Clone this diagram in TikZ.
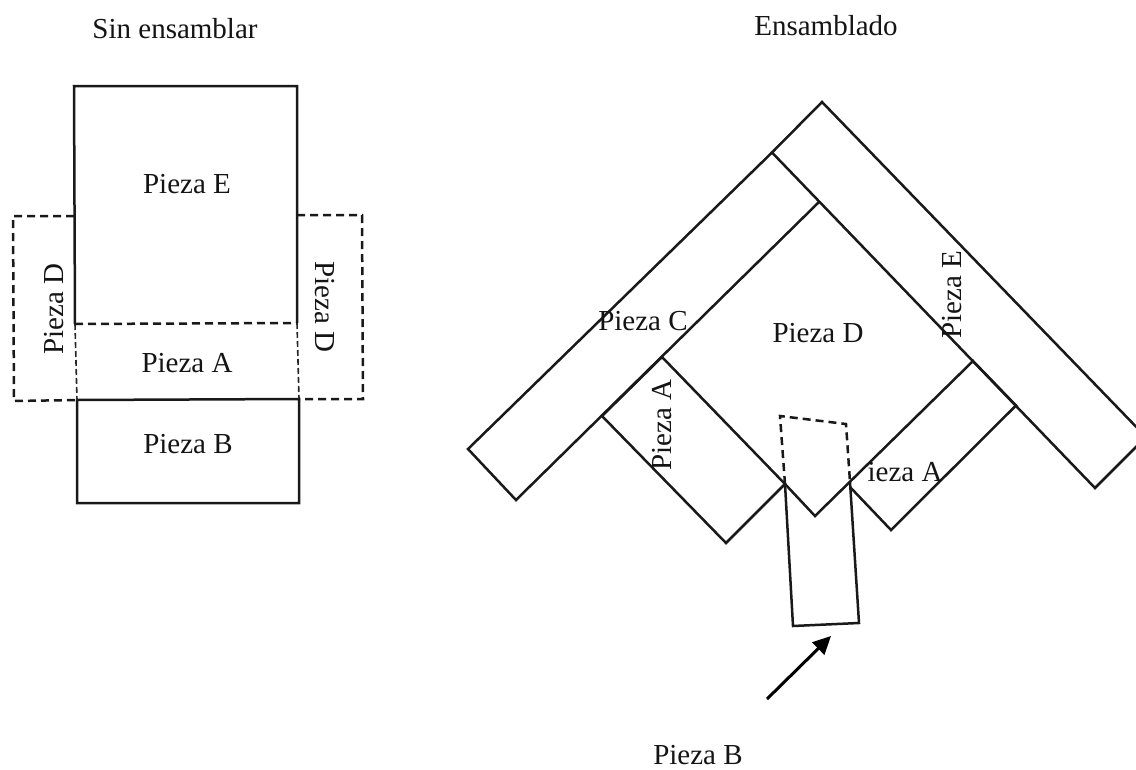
\documentclass[tikz,border=0pt]{standalone}
\usepackage{fontspec}
\setmainfont{Liberation Serif}
\usetikzlibrary{arrows.meta}
\tikzset{
  every node/.style={inner sep=0pt,font=\fontsize{29}{32}\selectfont,text=black!92},
  solidline/.style={draw=black!90,line width=2.5pt,line join=miter},
  dashline/.style={draw=black!90,line width=2.5pt,dash pattern=on 8pt off 5pt},
  thindash/.style={draw=black!85,line width=1.6pt,dash pattern=on 6pt off 3pt},
  pointer/.style={draw=black,line width=3pt,-{Triangle[length=18pt,width=17pt]}}
}
\begin{document}
\begin{tikzpicture}[x=1pt,y=-1pt]
\useasboundingbox (0,0) rectangle (1136,769);
\clip (0,0) rectangle (1136,769);
% left figure
\coordinate (etl) at (74,86);
\coordinate (etr) at (297,86);
\coordinate (aL) at (75,324);
\coordinate (aR) at (297,323);
\coordinate (bL) at (77,400);
\coordinate (bR) at (299,399);
\coordinate (cL) at (77,503);
\coordinate (cR) at (299,503);
\coordinate (dL1) at (74,216);
\coordinate (dL2) at (13,216);
\coordinate (dL3) at (14,401);
\coordinate (dR1) at (297,215);
\coordinate (dR2) at (362,215);
\coordinate (dR3) at (363,399);
\draw[solidline] (aL) -- (etl) -- (etr) -- (aR);
\draw[solidline] (bL) -- (cL) -- (cR) -- (bR) -- cycle;
\draw[dashline] (aL) -- (aR);
\draw[thindash] (aL) -- (bL);
\draw[thindash] (aR) -- (bR);
\draw[dashline] (dL1) -- (dL2) -- (dL3) -- (bL);
\draw[dashline] (dR1) -- (dR2) -- (dR3) -- (bR);
% right figure
\coordinate (apex) at (822,102);
\coordinate (e2) at (1146,437);
\coordinate (e3) at (1095,488);
\coordinate (e4) at (772,152.5);
\coordinate (c1) at (468,449);
\coordinate (c2) at (516,500);
\coordinate (c3) at (819,202);
\coordinate (a1) at (662,357);
\coordinate (a2) at (602,416);
\coordinate (a3) at (726,543);
\coordinate (v1) at (785,484);
\coordinate (v2) at (815,516);
\coordinate (v3) at (850,482);
\coordinate (r1) at (973,361);
\coordinate (r2) at (1016,405.5);
\coordinate (r3) at (891,530);
\coordinate (r4) at (850,487);
\coordinate (b1) at (793,626);
\coordinate (b2) at (859,623);
\coordinate (t1) at (780,416);
\coordinate (t2) at (846,424);
\coordinate (arrA) at (767,699);
\coordinate (arrB) at (831,636);
\draw[solidline] (apex) -- (e2) -- (e3) -- (e4) -- cycle;
\draw[solidline] (e4) -- (c1) -- (c2) -- (c3);
\draw[solidline] (a1) -- (a2) -- (a3) -- (v1) -- cycle;
\draw[solidline] (v1) -- (v2) -- (r1) -- (r2) -- (r3) -- (r4);
\draw[solidline] (v1) -- (b1) -- (b2) -- (v3);
\draw[dashline] (v1) -- (t1) -- (t2) -- (v3);
\draw[pointer] (arrA) -- (arrB);
% labels
\node (t-sin) at (175,29) {Sin ensamblar};
\node (t-ens) at (826,26) {Ensamblado};
\node (l-e) at (187,184) {Pieza E};
\node (l-a) at (187,363) {Pieza A};
\node (l-b) at (188,444) {Pieza B};
\node[rotate=90] (l-dl) at (54,309) {Pieza D};
\node[rotate=-90] (l-dr) at (325,307) {Pieza D};
\node (l-c) at (643,321) {Pieza C};
\node (l-dd) at (818,333) {Pieza D};
\node[rotate=90] (l-ee) at (952,295) {Pieza E};
\node[rotate=90] (l-a1) at (662,425) {Pieza A};
\node (l-a2) at (897,472) {\phantom{P}ieza A};
\node (l-bb) at (698,755) {Pieza B};
\end{tikzpicture}
\end{document}
